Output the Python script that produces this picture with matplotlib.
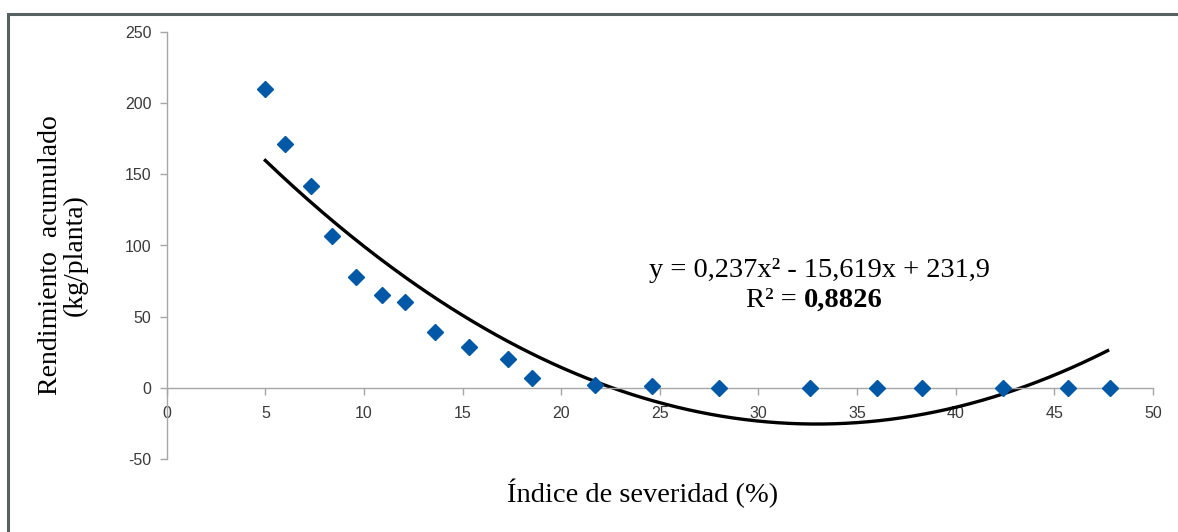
import numpy as np
import matplotlib
matplotlib.use("Agg")
import matplotlib.pyplot as plt
from matplotlib.patches import Rectangle

plt.rcParams['axes.unicode_minus'] = False

# Data
severity = [5.0, 6.0, 7.3, 8.4, 9.6, 10.9, 12.1, 13.6, 15.3, 17.3, 18.5,
            21.7, 24.6, 28.0, 32.6, 36.0, 38.3, 42.4, 45.7, 47.8]
yield_kg = [210, 171, 142, 107, 78, 65, 60, 39, 29, 20, 7,
            2, 1, 0, 0, 0, 0, 0, 0, 0]
trend_coefs = [0.237, -15.619, 231.9]
trend_range = [5.0, 47.7]
x_ticks = [0, 5, 10, 15, 20, 25, 30, 35, 40, 45, 50]
y_ticks = [-50, 0, 50, 100, 150, 200, 250]

fig = plt.figure(figsize=(11.78, 5.32), dpi=100)
ax = fig.add_axes([166.7 / 1178, 73 / 532, 986.3 / 1178, 427 / 532])

ax.plot(severity, yield_kg, linestyle='none', marker='D', ms=8.5,
        color='#0058A6', zorder=3)
xs = np.linspace(trend_range[0], trend_range[1], 300)
ax.plot(xs, np.polyval(trend_coefs, xs), color='black', lw=2.4, zorder=2)

ax.set_xlim(0, 50)
ax.set_ylim(-50, 250)
ax.set_xticks(x_ticks)
ax.set_yticks(y_ticks)

spine_col = '#A6A6A6'
for s in ['top', 'right']:
    ax.spines[s].set_visible(False)
ax.spines['bottom'].set_position(('data', 0))
ax.spines['bottom'].set_color(spine_col)
ax.spines['left'].set_color(spine_col)
ax.spines['bottom'].set_linewidth(1.0)
ax.spines['left'].set_linewidth(1.0)
ax.tick_params(axis='both', colors=spine_col, length=5, width=1.0,
               labelcolor='#3A3A3A', labelsize=11.5)
ax.tick_params(axis='x', direction='out', pad=8)
ax.tick_params(axis='y', direction='out', pad=6)
for lab in ax.get_xticklabels() + ax.get_yticklabels():
    lab.set_family('Liberation Sans')

serif = 'Liberation Serif'
fig.text(63 / 1178, 1 - 255 / 532, 'Rendimiento  acumulado\n(kg/planta)',
         rotation=90, ha='center', va='center', family=serif, fontsize=20,
         linespacing=0.95)
fig.text(643 / 1178, 1 - 493 / 532, 'Índice de severidad (%)', ha='center',
         va='center', family=serif, fontsize=20.5)

ax.text(33.07, 82.4, 'y = 0,237x² - 15,619x + 231,9', ha='center',
        va='center', family=serif, fontsize=20.5)
ax.text(32.3, 61.3, 'R² = ', ha='right', va='center', family=serif,
        fontsize=20.5)
ax.text(32.3, 61.3, '0,8826', ha='left', va='center', family=serif,
        fontsize=20.5, fontweight='bold')

# outer frame (top and left edges visible)
fig.patches.append(Rectangle((8 / 1178, -0.1), 1.2, 1.1 - 14 / 532,
                             transform=fig.transFigure, fill=False,
                             edgecolor='#56625F', lw=2.2))

fig.savefig('out.png', dpi=100)
